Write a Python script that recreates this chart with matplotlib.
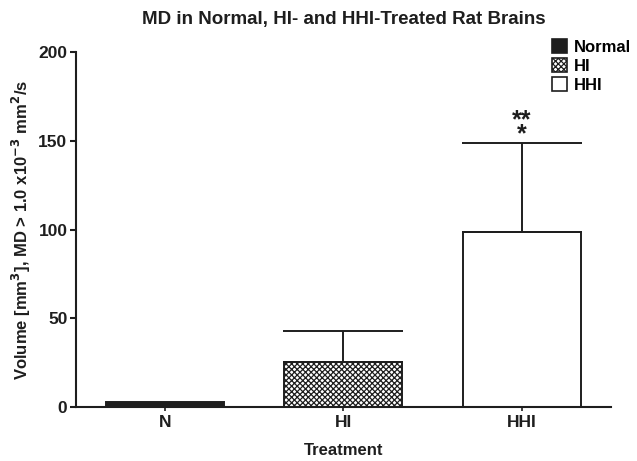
import matplotlib

matplotlib.use("Agg")
import matplotlib.pyplot as plt  # noqa: E402
from matplotlib.patches import Patch  # noqa: E402

# values
groups = ["N", "HI", "HHI"]
legend_names = ["Normal", "HI", "HHI"]
means = [3.0, 25.5, 98.5]
sem_upper = [0.0, 17.5, 50.5]
yticks = [0, 50, 100, 150, 200]

INK = "#1e1e1e"
plt.rcParams["font.family"] = ["Liberation Sans", "DejaVu Sans"]
plt.rcParams["font.weight"] = "bold"
plt.rcParams["mathtext.default"] = "bf"
plt.rcParams["hatch.linewidth"] = 0.9
plt.rcParams["hatch.color"] = INK

fig = plt.figure(figsize=(6.37, 4.61), dpi=100)
ax = fig.add_axes([0.119, 0.117, 0.840, 0.770])

x = list(range(len(groups)))
faces = [INK, "white", "white"]
hatches = [None, "xxxxxx", None]
bars = ax.bar(x, means, width=0.66, color=faces, edgecolor=INK, linewidth=1.4)
for b, h in zip(bars, hatches):
    if h:
        b.set_hatch(h)

ax.errorbar(x[1:], means[1:], yerr=[[0, 0], sem_upper[1:]], fmt="none",
            ecolor=INK, elinewidth=1.4, capsize=43, capthick=1.4)

# significance marks above HHI (** over *)
top = means[2] + sem_upper[2]
ax.text(x[2], top - 2, "**\n*", ha="center", va="bottom", fontsize=18,
        color=INK, linespacing=0.45, multialignment="center")

ax.set_xlim(-0.5, 2.5)
ax.set_ylim(0, 200)
ax.set_yticks(yticks)
ax.set_xticks(x)
ax.set_xticklabels(groups)
for s in ("top", "right"):
    ax.spines[s].set_visible(False)
for s in ("left", "bottom"):
    ax.spines[s].set_linewidth(1.5)
    ax.spines[s].set_color(INK)
ax.tick_params(axis="y", length=4, width=1.5, colors=INK, labelsize=12.5, pad=2)
ax.tick_params(axis="x", length=3, width=1.2, colors=INK, labelsize=12.5, pad=3)

ax.set_xlabel("Treatment", fontsize=12, fontweight="bold", color=INK, labelpad=9)
ax.set_ylabel(r"Volume [mm$^\mathbf{3}$], MD > 1.0 x10$^\mathbf{-3}$ mm$^\mathbf{2}$/s",
              fontsize=12, fontweight="bold", color=INK, labelpad=4)
ax.set_title("MD in Normal, HI- and HHI-Treated Rat Brains", fontsize=13.5,
             fontweight="bold", color=INK, pad=20)

handles = [Patch(facecolor=f, edgecolor=INK, hatch=h, linewidth=1.2)
           for f, h in zip(faces, hatches)]
ax.legend(handles, legend_names, loc="upper left", bbox_to_anchor=(0.878, 1.055),
          frameon=False, fontsize=12, handlelength=0.9, handleheight=0.9,
          handletextpad=0.4, labelspacing=0.2, borderaxespad=0)

fig.savefig("out.png", dpi=100)
